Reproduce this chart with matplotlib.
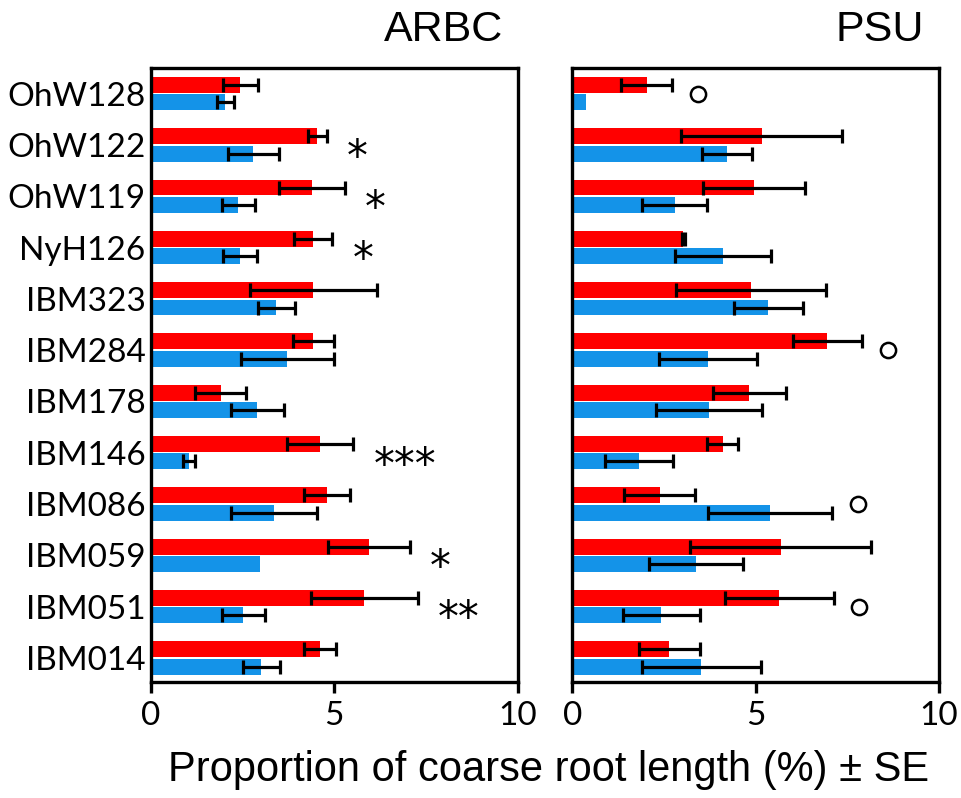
import matplotlib
matplotlib.use('Agg')
import matplotlib.pyplot as plt
import numpy as np

# genotypes, top to bottom
genotypes = ['OhW128', 'OhW122', 'OhW119', 'NyH126', 'IBM323', 'IBM284',
             'IBM178', 'IBM146', 'IBM086', 'IBM059', 'IBM051', 'IBM014']

# ARBC
arbc_red = [2.44, 4.54, 4.38, 4.43, 4.43, 4.43, 1.90, 4.62, 4.80, 5.94, 5.82, 4.62]
arbc_red_se = [0.48, 0.26, 0.90, 0.52, 1.73, 0.57, 0.69, 0.90, 0.62, 1.12, 1.46, 0.44]
arbc_blue = [2.03, 2.79, 2.38, 2.43, 3.42, 3.72, 2.90, 1.04, 3.35, 2.98, 2.52, 3.01]
arbc_blue_se = [0.23, 0.70, 0.45, 0.47, 0.50, 1.27, 0.72, 0.17, 1.17, 0.0, 0.59, 0.51]
arbc_sig = ['', '*', '*', '*', '', '', '', '***', '', '*', '**', '']

# PSU
psu_red = [2.03, 5.16, 4.96, 3.03, 4.88, 6.96, 4.83, 4.10, 2.38, 5.68, 5.65, 2.64]
psu_red_se = [0.70, 2.20, 1.40, 0.04, 2.05, 0.94, 0.99, 0.42, 0.96, 2.48, 1.48, 0.83]
psu_blue = [0.36, 4.22, 2.79, 4.11, 5.35, 3.71, 3.72, 1.81, 5.40, 3.38, 2.43, 3.52]
psu_blue_se = [0.0, 0.68, 0.89, 1.32, 0.95, 1.34, 1.44, 0.93, 1.69, 1.28, 1.04, 1.63]
psu_sig = [True, False, False, False, False, True, False, False, True, False, True, False]

RED = '#FF0000'
BLUE = '#1493E8'

plt.rcParams['font.family'] = ['Lato', 'DejaVu Sans']

fig = plt.figure(figsize=(9.62, 7.98), dpi=100)
ax1 = fig.add_axes([0.157, 0.1454, 0.381, 0.7694])
ax2 = fig.add_axes([0.595, 0.1454, 0.381, 0.7694])

y = np.arange(len(genotypes))
off = 0.17
h = 0.31
err_kw = dict(fmt='none', ecolor='black', elinewidth=2.3, capsize=5, capthick=2.3, zorder=3)


def draw_panel(ax, red, red_se, blue, blue_se, title):
    ax.barh(y - off, red, height=h, color=RED, zorder=2)
    ax.barh(y + off, blue, height=h, color=BLUE, zorder=2)
    red = np.array(red)
    blue = np.array(blue)
    red_se = np.array(red_se)
    blue_se = np.array(blue_se)
    m = red_se > 0
    ax.errorbar(red[m], (y - off)[m], xerr=red_se[m], **err_kw)
    m = blue_se > 0
    ax.errorbar(blue[m], (y + off)[m], xerr=blue_se[m], **err_kw)
    ax.set_xlim(0, 10)
    ax.set_ylim(len(genotypes) - 0.53, -0.5)
    ax.set_xticks([0, 5, 10])
    ax.tick_params(axis='x', direction='out', length=8, width=2.4, labelsize=24, pad=6)
    ax.tick_params(axis='y', length=0, labelsize=24, pad=4)
    for s in ax.spines.values():
        s.set_linewidth(2.4)
    ax.text(0.96, 1.03, title, transform=ax.transAxes, ha='right', va='bottom',
            fontsize=31, family='Liberation Sans')
    return np.maximum(red + red_se, blue + blue_se)


ends = draw_panel(ax1, arbc_red, arbc_red_se, arbc_blue, arbc_blue_se, 'ARBC')
ax1.set_yticks(y)
ax1.set_yticklabels(genotypes)
for i, s in enumerate(arbc_sig):
    if s:
        ax1.text(ends[i] + 0.55, i + 0.25, s, ha='left', va='center', fontsize=30,
                 family='DejaVu Sans')

ends = draw_panel(ax2, psu_red, psu_red_se, psu_blue, psu_blue_se, 'PSU')
ax2.set_yticks([])
sig = np.array(psu_sig)
ax2.scatter(ends[sig] + 0.7, y[sig], s=120, facecolor='white', edgecolor='black',
            linewidth=1.8, zorder=4, clip_on=False)

fig.text(0.57, 0.01, 'Proportion of coarse root length (%) \u00b1 SE', ha='center',
         va='bottom', fontsize=30, family='Liberation Sans')

fig.savefig('out.png', dpi=100, facecolor='white')
